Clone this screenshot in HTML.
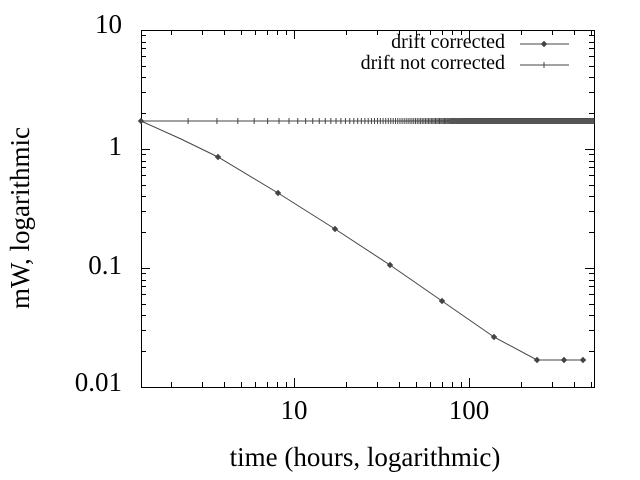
<!DOCTYPE html>
<html><head><meta charset="utf-8"><style>
body{margin:0;background:#fff;}
svg{display:block;font-family:"Liberation Serif",serif;}
</style></head><body>
<svg id="s" width="640" height="480" xmlns="http://www.w3.org/2000/svg">
<rect width="640" height="480" fill="#fff"/>
<g id="ticks" stroke="#000" stroke-width="1"></g>
<rect x="141.5" y="30.5" width="453" height="357" fill="none" stroke="#000"/>
<g font-size="27" fill="#000">
<text x="122" y="33" text-anchor="end">10</text>
<text x="122" y="155" text-anchor="end">1</text>
<text x="122" y="274" text-anchor="end">0.1</text>
<text x="122" y="391" text-anchor="end">0.01</text>
<text x="294" y="419" text-anchor="middle">10</text>
<text x="469" y="419" text-anchor="middle">100</text>
<text x="365" y="466" text-anchor="middle">time (hours, logarithmic)</text>
<text transform="translate(29,218) rotate(-90)" text-anchor="middle">mW, logarithmic</text>
</g>
<g font-size="20" fill="#000">
<text x="505" y="48" text-anchor="end">drift corrected</text>
<text x="505" y="69" text-anchor="end">drift not corrected</text>
</g>
<g stroke="#444" stroke-width="1" fill="none">
<line x1="520" y1="44" x2="569" y2="44"/>
<line x1="520" y1="65" x2="569" y2="65"/>
<line x1="544" y1="62" x2="544" y2="68"/>
<line x1="141" y1="121" x2="594" y2="121"/>
<polyline points="141,121 181,139 218,157 278,193 335,229 390,265 442,301 494,337 537,360 564,360 583,360"/>
</g>
<g id="marks" fill="#444" stroke="#444"></g>
<rect x="450" y="118.5" width="144" height="5.5" fill="#555"/>
</svg>
<script>
var ns="http://www.w3.org/2000/svg",T=document.getElementById("ticks"),M=document.getElementById("marks");
function L(g,a,b,c,d){var l=document.createElementNS(ns,"line");l.setAttribute("x1",a);l.setAttribute("y1",b);l.setAttribute("x2",c);l.setAttribute("y2",d);g.appendChild(l);}
for(var dec=0;dec<3;dec++){for(var k=1;k<=10;k++){var y=387-119*(dec+Math.log10(k));var len=(k==1||k==10)?9:5;y=Math.round(y)+0.5;L(T,141,y,141+len,y);L(T,594,y,594-len,y);}}
var lx0=Math.log10(1.34);
for(var e=0;e<3;e++){for(var k=1;k<10;k++){var v=Math.pow(10,e)*k;var x=141+175*(Math.log10(v)-lx0);if(x<141||x>594)continue;x=Math.round(x)+0.5;var len=(k==1)?9:5;L(T,x,387,x,387-len);L(T,x,30,x,30+len);}}
for(var n=0;n<480;n++){var t=1.34+n*1.15;var x=141+175*(Math.log10(t)-lx0);if(x>594)break;L(M,x,118,x,124);}
[[141,121],[218,157],[278,193],[335,229],[390,265],[442,301],[494,337],[537,360],[564,360],[583,360],[544,44]].forEach(function(p){var q=document.createElementNS(ns,"polygon");q.setAttribute("points",(p[0]-2.5)+","+p[1]+" "+p[0]+","+(p[1]-2.5)+" "+(p[0]+2.5)+","+p[1]+" "+p[0]+","+(p[1]+2.5));M.appendChild(q);});
</script>
</body></html>
